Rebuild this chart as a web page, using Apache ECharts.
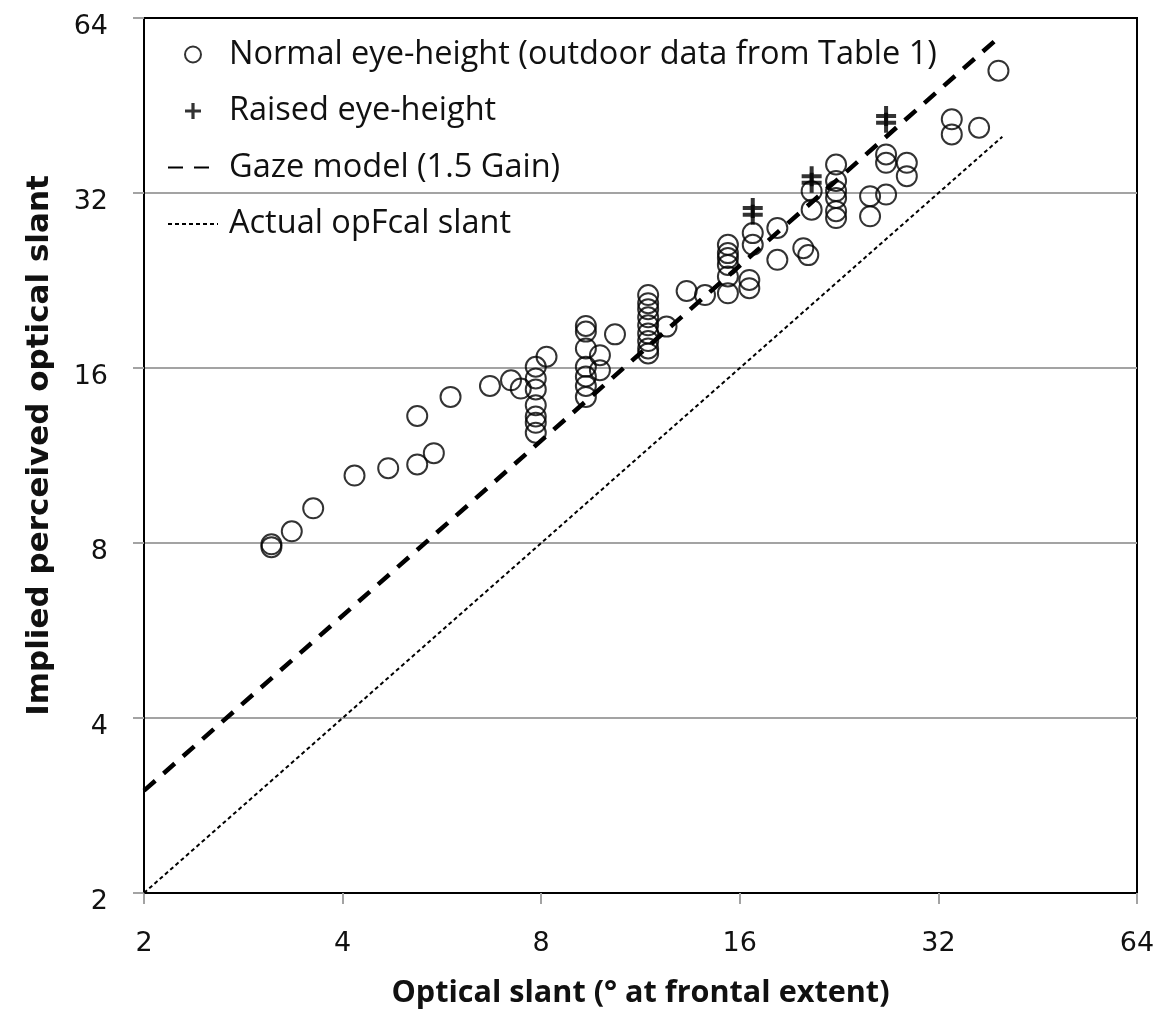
<!DOCTYPE html>
<html>
<head>
<meta charset="utf-8">
<script src="https://cdn.jsdelivr.net/npm/echarts@6/dist/echarts.min.js"></script>
<style>
html,body{margin:0;padding:0;background:#fff;}
#chart{width:1169px;height:1015px;}
</style>
</head>
<body>
<div id="chart"></div>
<script>
// Axis ticks (log base 2)
const axisTicks = [2, 4, 8, 16, 32, 64];

// Normal eye-height (outdoor data from Table 1)
const normalX = [
  3.12, 3.12, 3.35, 3.61, 4.17, 4.69, 5.19, 5.50, 5.19, 5.83, 6.69, 7.20, 7.45, 8.15,
  7.85, 7.85, 7.85, 7.85, 7.85, 7.85, 7.85,
  9.35, 9.35, 9.35, 9.35, 9.35, 9.35, 9.35,
  9.82, 9.82, 10.35,
  11.62, 11.62, 11.62, 11.62, 11.62, 11.62, 11.62, 11.62, 11.62,
  12.39, 13.29, 14.17,
  15.35, 15.35, 15.35, 15.35, 15.35, 15.35,
  16.54, 16.54, 16.74, 16.74,
  18.24, 18.24, 19.97, 20.32, 20.56, 20.56,
  22.39, 22.39, 22.39, 22.39, 22.39, 22.39,
  25.21, 25.21, 26.66, 26.66, 26.66,
  28.66, 28.66, 33.53, 33.53, 36.88, 39.46
];
const normalY = [
  7.96, 7.87, 8.38, 9.18, 10.45, 10.76, 10.92, 11.42, 13.23, 14.27, 14.9, 15.24, 14.75, 16.73,
  16.08, 15.35, 14.7, 13.8, 13.2, 12.88, 12.38,
  18.9, 18.48, 17.29, 16.08, 15.47, 14.9, 14.27,
  16.83, 15.86, 18.28,
  21.36, 20.68, 20.2, 19.56, 18.95, 18.35, 17.8, 17.29, 16.95,
  18.85, 21.71, 21.36,
  26.06, 25.22, 24.73, 24.07, 22.99, 21.51,
  22.68, 21.95, 27.3, 26.06,
  27.86, 24.56, 25.72, 25.02, 32.23, 29.96,
  35.82, 33.57, 32.25, 31.38, 29.77, 28.98,
  31.6, 29.18, 31.8, 37.28, 36.07,
  36.07, 34.21, 42.84, 40.36, 41.45, 51.94
];

// Raised eye-height
const raisedX = [16.74, 16.74, 20.56, 20.56, 26.66, 26.66];
const raisedY = [30.16, 29.37, 34.21, 33.31, 43.4, 42.28];

// Gaze model (1.5 Gain) end points
const gazeX = [2, 40];
const gazeY = [3, 60];

// Actual optical slant end points
const actualX = [2, 40];
const actualY = [2, 40];

const seriesNames = [
  'Normal eye-height (outdoor data from Table 1)',
  'Raised eye-height',
  'Gaze model (1.5 Gain)',
  'Actual opFcal slant'
];

const zip = (xs, ys) => xs.map((x, i) => [x, ys[i]]);

const chart = echarts.init(document.getElementById('chart'), null, {renderer: 'canvas'});

const gray = '#a3a3a3';
const ink = '#111111';
const plusPath = 'path://M8,0 H12 V8 H20 V12 H12 V20 H8 V12 H0 V8 H8 Z';

const axisCommon = {
  type: 'log',
  logBase: 2,
  min: axisTicks[0],
  max: axisTicks[axisTicks.length - 1],
  axisLine: {show: true, lineStyle: {color: '#000', width: 2}},
  axisTick: {show: true, inside: false, length: 11, lineStyle: {color: gray, width: 2}},
  minorTick: {show: false},
  axisLabel: {fontFamily: 'DejaVu Sans', fontSize: 27, color: ink}
};

chart.setOption({
  animation: false,
  backgroundColor: '#fff',
  color: ['#000', '#000', '#000', '#000'],
  grid: {
    left: 144, right: 32, top: 18, bottom: 122,
    show: true, borderColor: '#000', borderWidth: 2, backgroundColor: 'transparent'
  },
  legend: {
    orient: 'vertical',
    left: 162,
    top: 33,
    itemWidth: 50,
    itemHeight: 16,
    itemGap: 23.5,
    textStyle: {fontFamily: 'Open Sans', fontSize: 32.5, color: ink, padding: [0, 0, 0, 6]},
    data: [
      {name: seriesNames[0], icon: 'circle'},
      {name: seriesNames[1], icon: plusPath},
      {name: seriesNames[2], itemStyle: {opacity: 0}},
      {name: seriesNames[3], itemStyle: {opacity: 0}}
    ]
  },
  xAxis: Object.assign({}, axisCommon, {
    name: 'Optical slant (° at frontal extent)',
    nameLocation: 'middle',
    nameGap: 85,
    nameTextStyle: {fontFamily: 'Open Sans', fontWeight: 'bold', fontSize: 30.6, color: ink},
    axisLabel: Object.assign({}, axisCommon.axisLabel, {margin: 37}),
    splitLine: {show: false}
  }),
  yAxis: Object.assign({}, axisCommon, {
    name: 'Implied perceived optical slant',
    nameLocation: 'middle',
    nameGap: 89,
    nameTextStyle: {fontFamily: 'DejaVu Sans', fontWeight: 'bold', fontSize: 31, color: ink, padding: [0, 0, 0, 20]},
    axisLabel: Object.assign({}, axisCommon.axisLabel, {margin: 36, verticalAlign: 'top', lineHeight: 18}),
    splitLine: {
      show: true,
      lineStyle: {color: ['rgba(0,0,0,0)', gray, gray, gray, gray, 'rgba(0,0,0,0)'], width: 2}
    }
  }),
  series: [
    {
      name: seriesNames[0],
      type: 'scatter',
      symbol: 'circle',
      symbolSize: 20,
      itemStyle: {color: 'rgba(255,255,255,0)', borderColor: '#000', borderWidth: 2},
      data: zip(normalX, normalY),
      z: 3
    },
    {
      name: seriesNames[1],
      type: 'scatter',
      symbol: plusPath,
      symbolSize: 20,
      itemStyle: {color: '#000'},
      data: zip(raisedX, raisedY),
      z: 4
    },
    {
      name: seriesNames[2],
      type: 'line',
      symbol: 'none',
      showSymbol: false,
      itemStyle: {color: '#000'},
      lineStyle: {color: '#000', width: 4.5, type: [15, 11]},
      data: zip(gazeX, gazeY),
      z: 5
    },
    {
      name: seriesNames[3],
      type: 'line',
      symbol: 'none',
      showSymbol: false,
      itemStyle: {color: '#000'},
      lineStyle: {color: '#000', width: 2, type: [4, 3]},
      data: zip(actualX, actualY),
      z: 5
    }
  ]
});
</script>
</body>
</html>
